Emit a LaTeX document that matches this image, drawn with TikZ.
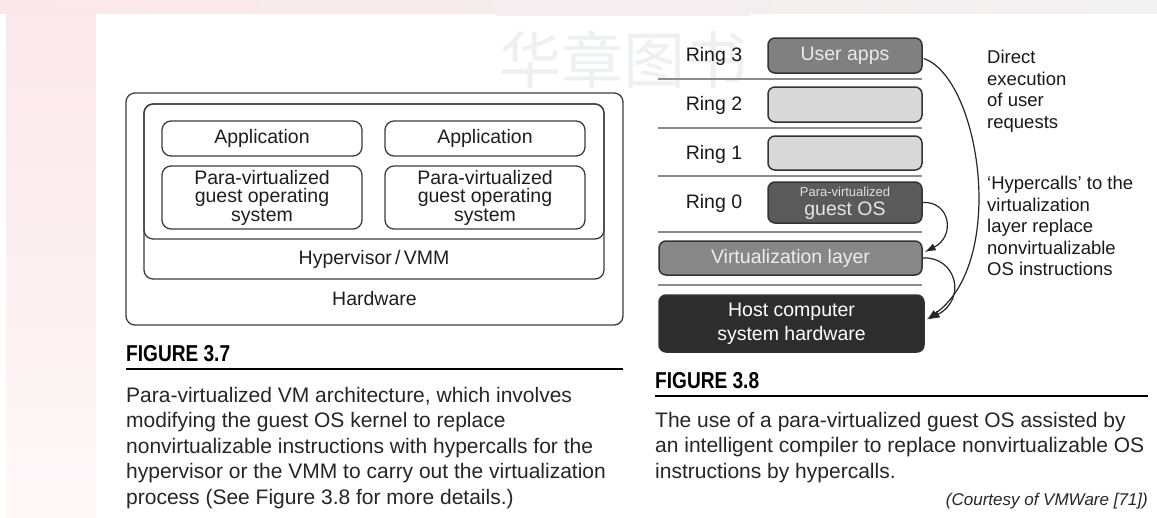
\documentclass[tikz,border=0pt]{standalone}
\usepackage{fontspec}
\setmainfont{Liberation Sans}
\newfontfamily\cjk{Noto Sans CJK SC}
\newfontfamily\figfont{Liberation Sans}[FakeStretch=0.83]
\usetikzlibrary{arrows.meta,calc}
\definecolor{lbord}{HTML}{3C3C3C}
\definecolor{ltext}{HTML}{1E1E1E}
\definecolor{rbord}{HTML}{333333}
\definecolor{uafill}{HTML}{808080}
\definecolor{ringfill}{HTML}{D9D9D9}
\definecolor{gosfill}{HTML}{5A5A5A}
\definecolor{vlfill}{HTML}{878787}
\definecolor{hostfill}{HTML}{2D2D2D}
\definecolor{sepcol}{HTML}{8C8C8C}
\definecolor{captext}{HTML}{262626}
\definecolor{pinkbg}{HTML}{FBE7EA}
\definecolor{pinklt}{HTML}{FEF8F9}
\definecolor{wmark}{HTML}{EEF0F4}
\begin{document}
\begin{tikzpicture}[x=1pt,y=-1pt,
  lbox/.style={draw=lbord, line width=1.3pt, rounded corners=9pt, inner sep=0pt,
    align=center, text=ltext, font=\fontsize{19.5}{18.5}\selectfont},
  ltxt/.style={text=ltext, inner sep=0pt, font=\fontsize{19.5}{19.5}\selectfont},
  rbox/.style={draw=rbord, line width=1.5pt, rounded corners=7pt, inner sep=0pt,
    align=center, font=\fontsize{19.5}{24}\selectfont},
  ringlbl/.style={text=black!90, inner sep=0pt, font=\fontsize{19.5}{19.5}\selectfont},
  sepline/.style={draw=sepcol, line width=1.4pt},
  arr/.style={draw=black!85, line width=1.2pt, -{Latex[length=11pt,width=7.5pt]}},
  rtxt/.style={text=black!90, inner sep=0pt, anchor=base west, font=\fontsize{18.5}{18.5}\selectfont},
  figlbl/.style={text=black, inner sep=0pt, anchor=base west, font=\figfont\bfseries\fontsize{23}{23}\selectfont},
  capline/.style={text=captext, inner sep=0pt, anchor=base west, font=\fontsize{21}{21}\selectfont},
  rule/.style={draw=black, line width=2pt}
]
\useasboundingbox (0,0) rectangle (1157,517);
\fill[white] (0,0) rectangle (1157,517);
% background artefacts
\shade[top color=pinkbg, bottom color=pinklt] (6,0) rectangle (96,517);
\shade[left color=pinkbg, right color=black!5] (0,0) rectangle (1157,13);
\draw[wmark, line width=1.5pt] (497,15) -- (750,15);
\node[text=wmark, inner sep=0pt, font=\cjk\fontsize{62}{62}\selectfont] (wm) at (623,60) {华章图书};

% ---------- Figure 3.7 ----------
\node[lbox, minimum width=497pt, minimum height=232pt] (hw) at (374.5,209) {};
\node[lbox, minimum width=460pt, minimum height=175pt] (hyp) at (374,191.5) {};
\node[lbox, minimum width=460pt, minimum height=135pt] (guests) at (374,171.5) {};
\node[lbox, minimum width=200pt, minimum height=35pt] (app1) at (262,138.5) {Application};
\node[lbox, minimum width=200pt, minimum height=35pt] (app2) at (485,138.5) {Application};
\node[lbox, minimum width=200pt, minimum height=63pt] (os1) at (262,197.5) {Para-virtualized\\guest operating\\system};
\node[lbox, minimum width=200pt, minimum height=63pt] (os2) at (485,197.5) {Para-virtualized\\guest operating\\system};
\node[ltxt] (hyplbl) at (374,259) {Hypervisor\,/\,VMM};
\node[ltxt] (hwlbl) at (374.5,299) {Hardware};

% ---------- Figure 3.8 ----------
\node[ringlbl] (ring3) at (714,56) {Ring 3};
\node[ringlbl] (ring2) at (714,105) {Ring 2};
\node[ringlbl] (ring1) at (714,154) {Ring 1};
\node[ringlbl] (ring0) at (714,203) {Ring 0};
\draw[sepline] (658,79) -- (922,79);
\draw[sepline] (658,128) -- (922,128);
\draw[sepline] (658,176) -- (922,176);
\draw[sepline] (658,232) -- (922,232);
\draw[sepline] (658,285) -- (922,285);
\node[rbox, fill=uafill, text=black!8, minimum width=154pt, minimum height=35pt] (ua) at (845,55.5) {User apps};
\node[rbox, fill=ringfill, minimum width=154pt, minimum height=35pt] (r2) at (845,104.5) {};
\node[rbox, fill=ringfill, minimum width=154pt, minimum height=34pt] (r1) at (845,153) {};
\node[rbox, fill=gosfill, text=black!10, minimum width=154pt, minimum height=41pt] (gos) at (845,202.5) {};
\node[text=black!12, inner sep=0pt, font=\fontsize{13}{13}\selectfont] (gos1) at (845,192) {Para-virtualized};
\node[text=black!10, inner sep=0pt, font=\fontsize{19.5}{19.5}\selectfont] (gos2) at (845,211) {guest OS};
\node[rbox, fill=vlfill, text=black!7, minimum width=263pt, minimum height=34pt] (vl) at (790.5,258) {Virtualization layer};
\node[rbox, fill=hostfill, text=white, minimum width=265pt, minimum height=57pt] (host) at (791.5,323.5) {Host computer\\system hardware};

\draw[arr] ($(ua.east)+(1,3)$) .. controls (980,78) and (1008,262) .. ($(host.east)+(2,-4)$);
\draw[arr] (gos.east) .. controls (950,201) and (956,236) .. ($(vl.east)+(2,-6)$);
\draw[arr] (vl.east) .. controls (955,256) and (968,298) .. ($(host.east)+(4,-4)$);

\node[rtxt] (t1) at (987,63) {Direct};
\node[rtxt] (t2) at (987,85) {execution};
\node[rtxt] (t3) at (987,106.5) {of user};
\node[rtxt] (t4) at (987,128) {requests};
\node[rtxt] (t5) at (987,189.5) {‘Hypercalls’ to the};
\node[rtxt] (t6) at (987,211) {virtualization};
\node[rtxt] (t7) at (987,232.5) {layer replace};
\node[rtxt] (t8) at (987,254) {nonvirtualizable};
\node[rtxt] (t9) at (987,275.5) {OS instructions};

% ---------- Captions ----------
\node[figlbl] (fig37) at (126,361) {FIGURE 3.7};
\draw[rule] (126,369) -- (623,369);
\node[capline] (c1) at (126,402) {Para-virtualized VM architecture, which involves};
\node[capline] (c2) at (126,427.5) {modifying the guest OS kernel to replace};
\node[capline] (c3) at (126,453) {nonvirtualizable instructions with hypercalls for the};
\node[capline] (c4) at (126,478.5) {hypervisor or the VMM to carry out the virtualization};
\node[capline] (c5) at (126,504) {process (See Figure 3.8 for more details.)};

\node[figlbl] (fig38) at (655,388) {FIGURE 3.8};
\draw[rule] (655,396) -- (1148,396);
\node[capline] (d1) at (655,427) {The use of a para-virtualized guest OS assisted by};
\node[capline] (d2) at (655,452.5) {an intelligent compiler to replace nonvirtualizable OS};
\node[capline] (d3) at (655,478) {instructions by hypercalls.};
\node[text=captext, inner sep=0pt, anchor=base east, font=\itshape\fontsize{17}{17}\selectfont] (court) at (1148,505) {(Courtesy of VMWare [71])};
\end{tikzpicture}
\end{document}
